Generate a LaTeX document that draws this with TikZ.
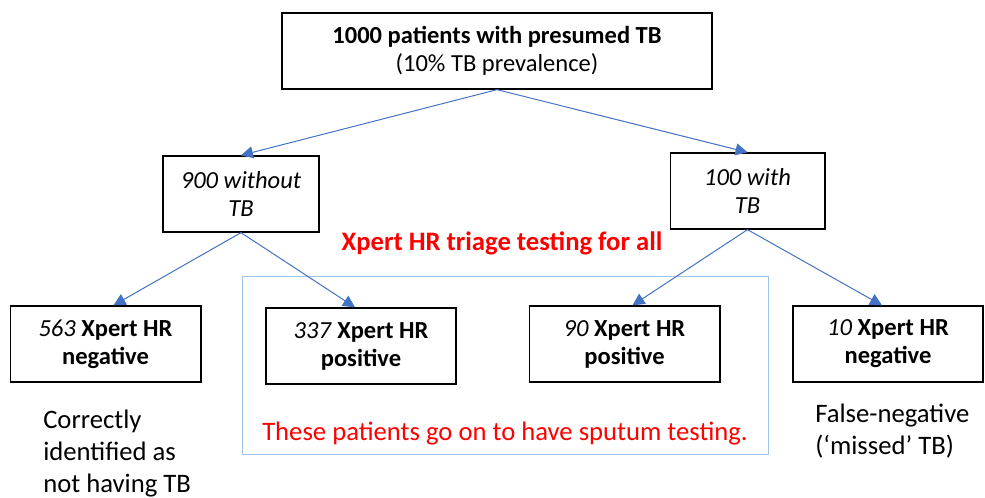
\documentclass[tikz,border=0pt]{standalone}
\usepackage{fontspec}
\setmainfont{Carlito}
\usetikzlibrary{arrows.meta}
\definecolor{arrowblue}{HTML}{4472C4}
\definecolor{frameblue}{HTML}{9DC3E6}
\definecolor{notered}{HTML}{FF0000}

\begin{document}
\begin{tikzpicture}[x=0.75pt,y=-0.75pt,
	box/.style={draw,line width=1pt,align=center,inner sep=0pt,minimum height=57pt,font=\fontsize{18.4}{21}\selectfont},
	link/.style={arrowblue,line width=0.75pt,-{Triangle[length=9pt,width=9pt]}},
	remark/.style={align=left,inner sep=0pt,font=\fontsize{20}{24}\selectfont}]
	\useasboundingbox (0,0) rectangle (985,498);
	% frame round the positives
	\draw[frameblue,line width=0.75pt] (242,277) rectangle (768,455);
	\node[box,minimum width=322.5pt] (all) at (497,51) {\textbf{1000 patients with presumed TB}\\(10\% TB prevalence)};
	\node[box,minimum width=117pt] (without) at (241,194) {\textit{900 without}\\\textit{TB}};
	\node[box,minimum width=116pt] (with) at (747.5,191) {\textit{100 with}\\\textit{TB}};
	\node[box,minimum width=143pt] (negA) at (105.5,344) {\textit{563} \textbf{Xpert HR}\\\textbf{negative}};
	\node[box,minimum width=142.5pt] (posA) at (361,346) {\textit{337} \textbf{Xpert HR}\\\textbf{positive}};
	\node[box,minimum width=143pt] (posB) at (624.5,344) {\textit{90} \textbf{Xpert HR}\\\textbf{positive}};
	\node[box,minimum width=142.5pt] (negB) at (888,344) {\textit{10} \textbf{Xpert HR}\\\textbf{negative}};
	% arrows
	\draw[link] (all.south) -- (without.north);
	\draw[link] (all.south) -- (with.north);
	\draw[link] (without.south) -- ([xshift=6pt]negA.north);
	\draw[link] (without.south) -- ([xshift=-4.5pt]posA.north);
	\draw[link] (with.south) -- ([xshift=6pt]posB.north);
	\draw[link] (with.south) -- ([xshift=-4.5pt]negB.north);
	% notes
	\node[text=notered,font=\bfseries\fontsize{20}{24}\selectfont] (triage) at (502,243) {Xpert HR triage testing for all};
	\node[text=notered,font=\fontsize{20}{24}\selectfont] (sputum) at (505,434) {These patients go on to have sputum testing.};
	\node[remark,anchor=north west] (correct) at (43,410) {Correctly\\identified as\\not having TB};
	\node[remark,anchor=north west] (missed) at (815,404) {False-negative\\(‘missed’ TB)};
\end{tikzpicture}
\end{document}
